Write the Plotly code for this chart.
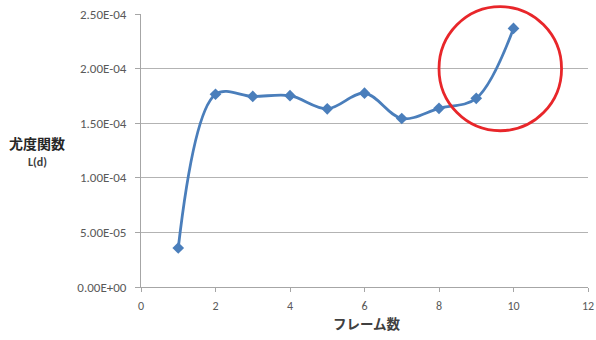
import plotly.graph_objects as go

# Frame count vs. likelihood function L(d)
frames = [1, 2, 3, 4, 5, 6, 7, 8, 9, 10]
likelihood = [3.57e-5, 1.765e-4, 1.745e-4, 1.752e-4, 1.632e-4,
              1.775e-4, 1.543e-4, 1.636e-4, 1.728e-4, 2.368e-4]

y_tickvals = [0, 5e-5, 1e-4, 1.5e-4, 2e-4, 2.5e-4]
y_ticktext = ["0.00E+00", "5.00E-05", "1.00E-04", "1.50E-04", "2.00E-04", "2.50E-04"]
x_tickvals = [0, 2, 4, 6, 8, 10, 12]
x_range = [0, 12]
y_range = [0, 2.5e-4]

# highlighted region (ellipse around the last points), in data units
highlight_x = [8.0, 11.29]
highlight_y = [1.431e-4, 2.567e-4]

LINE_BLUE = "#4a7ebb"
TICK_GREY = "#595959"
FONT = "Carlito, Calibri, 'Open Sans', 'Noto Sans', sans-serif"
CJK = "'Noto Sans CJK JP', sans-serif"


def to_paper(v, rng):
    return (v - rng[0]) / (rng[1] - rng[0])


fig = go.Figure()
fig.add_trace(go.Scatter(
    x=frames, y=likelihood, mode="lines+markers",
    line=dict(color=LINE_BLUE, width=2.8, shape="spline", smoothing=1.0),
    marker=dict(symbol="diamond", size=9, color=LINE_BLUE),
    showlegend=False,
))

# paper-referenced so the ellipse may extend above the plot area
fig.add_shape(type="circle", xref="paper", yref="paper",
              x0=to_paper(highlight_x[0], x_range), x1=to_paper(highlight_x[1], x_range),
              y0=to_paper(highlight_y[0], y_range), y1=to_paper(highlight_y[1], y_range),
              line=dict(color="#e8262a", width=2.8))

fig.update_xaxes(
    range=x_range, tickvals=x_tickvals, showgrid=False, automargin=False,
    showline=True, linecolor="#a6a6a6", linewidth=1,
    ticks="outside", ticklen=4, tickcolor="#a6a6a6", ticklabelstandoff=4,
    tickfont=dict(family=FONT, size=12, color=TICK_GREY),
    zeroline=False,
)
fig.update_yaxes(
    range=y_range, tickvals=y_tickvals, ticktext=y_ticktext, automargin=False,
    showgrid=True, gridcolor="#b3b3b3", gridwidth=1.2,
    showline=True, linecolor="#a6a6a6", linewidth=1,
    ticks="outside", ticklen=5, tickcolor="#a6a6a6", ticklabelstandoff=6,
    tickfont=dict(family=FONT, size=13, color=TICK_GREY),
    zeroline=False,
)

fig.add_annotation(text="<b>フレーム数</b>", xref="paper", yref="paper",
                   x=(366.7 - 141) / 447, y=-36 / 273, yanchor="middle",
                   showarrow=False,
                   font=dict(family=CJK, size=13.5, color="#404040"))
fig.add_annotation(text="<b>尤度関数</b>", xref="paper", yref="paper",
                   x=(37 - 141) / 447, y=(287 - 143) / 273, xanchor="center", yanchor="middle",
                   showarrow=False,
                   font=dict(family=CJK, size=14, color="#262626"))
fig.add_annotation(text="<b>L(d)</b>", xref="paper", yref="paper",
                   x=(37 - 141) / 447, y=(287 - 162) / 273, xanchor="center", yanchor="middle",
                   showarrow=False,
                   font=dict(family=FONT, size=12, color="#404040"))

fig.update_layout(
    width=596, height=340,
    margin=dict(l=141, r=8, t=14, b=53),
    paper_bgcolor="white", plot_bgcolor="white",
)

fig.write_html("out.html")
